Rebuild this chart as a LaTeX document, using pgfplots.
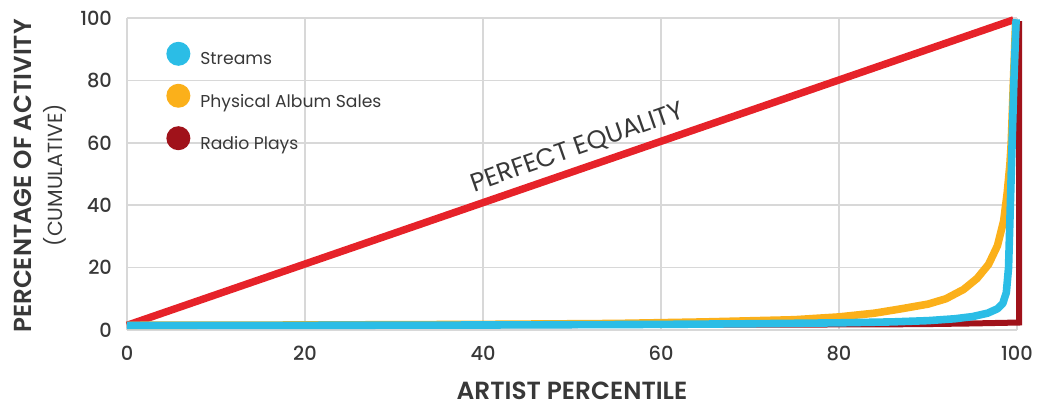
\documentclass[border=0pt]{standalone}
\usepackage{fontspec}
\setmainfont{Poppins}
\newfontfamily\medfont{Poppins Medium}
\newfontfamily\semifont{Poppins SemiBold}
\usepackage{pgfplots}
\pgfplotsset{compat=1.18}
\definecolor{eqred}{HTML}{E62229}
\definecolor{streamc}{HTML}{2BBDE6}
\definecolor{albumc}{HTML}{FBB01A}
\definecolor{radioc}{HTML}{A0121A}
\definecolor{gridc}{HTML}{D8D8D8}
\definecolor{txt}{HTML}{383838}
\begin{document}
\begin{tikzpicture}
\path[use as bounding box] (-63.5pt,-38.5pt) rectangle (460pt,165pt);
\begin{axis}[
  at={(0pt,0pt)}, anchor=south west,
  scale only axis, width=445pt, height=156pt,
  xmin=0, xmax=100, ymin=0, ymax=100,
  xtick={0,20,40,60,80,100}, ytick={0,20,40,60,80,100},
  grid=major,
  major grid style={draw=gridc, line width=0.75pt},
  axis line style={draw=none},
  major tick length=0pt,
  tick label style={font=\medfont\fontsize{9.7}{11}\selectfont, text=txt},
  /pgf/number format/assume math mode=true,
  xticklabel style={yshift=-4.5pt},
  yticklabel style={xshift=-4pt},
  clip=false,
  legend image code/.code={\fill[#1] (6pt,0.32em) circle (6pt);},
  legend style={at={(rel axis cs:0.0438,0.925)}, anchor=north west,
    draw=none, fill=none, inner sep=0pt, row sep=8pt,
    font=\fontsize{8.6}{10}\selectfont, text=txt,
    nodes={inner sep=0pt},
    /tikz/every odd column/.append style={column sep=5pt}},
  legend cell align=left,
]
\addlegendimage{fill=streamc, draw=none}
\addlegendentry{Streams}
\addlegendimage{fill=albumc, draw=none}
\addlegendentry{Physical Album Sales}
\addlegendimage{fill=radioc, draw=none}
\addlegendentry{Radio Plays}

\addplot[eqred, line width=3.7pt, forget plot] coordinates {(0,1.5) (99.6,99.4)};

\addplot[radioc, line width=3pt, forget plot, line join=miter] coordinates {
(0,1.6) (50,1.6) (85,1.8) (90,1.9) (95,2.1) (98.5,2.3) (100.25,2.4) (100.25,99)};

\addplot[albumc, line width=3.8pt, forget plot, line join=round] coordinates {
(0,1.5) (20,1.6) (40,1.8) (55,2.1) (65,2.6) (75,3.3) (80,4.2) (84,5.4) (87,6.8) (90,8.3) (92,10) (94,13) (95.5,16.5) (96.8,21) (97.8,27) (98.5,35) (98.9,44) (99.2,53) (99.35,60) (99.6,80) (99.85,99)};

\addplot[streamc, line width=3.8pt, forget plot, line join=round] coordinates {
(0,1.5) (20,1.5) (40,1.6) (60,1.8) (70,2) (80,2.3) (86,2.6) (90,3) (93,3.6) (95,4.3) (96.7,5.4) (97.8,6.8) (98.4,8.5) (98.8,12) (99.05,20) (99.25,40) (99.45,60) (99.65,80) (99.9,99.6)};

\node[rotate=19.3, inner sep=1pt, font=\fontsize{12.8}{14}\selectfont, text=txt] at (axis cs:50.6,58.3) {PERFECT EQUALITY};
\end{axis}
\node[inner sep=1pt, font=\semifont\fontsize{12.4}{14}\selectfont, text=txt] at (222.5pt,-30.3pt) {ARTIST PERCENTILE};
\node[rotate=90, inner sep=1pt, font=\semifont\fontsize{12.3}{14}\selectfont, text=txt] at (-52.3pt,77pt) {PERCENTAGE OF ACTIVITY};
\node[rotate=90, inner sep=1pt, font=\fontsize{10.2}{12}\selectfont, text=txt] at (-36pt,77.5pt) {(CUMULATIVE)};
\end{tikzpicture}
\end{document}
